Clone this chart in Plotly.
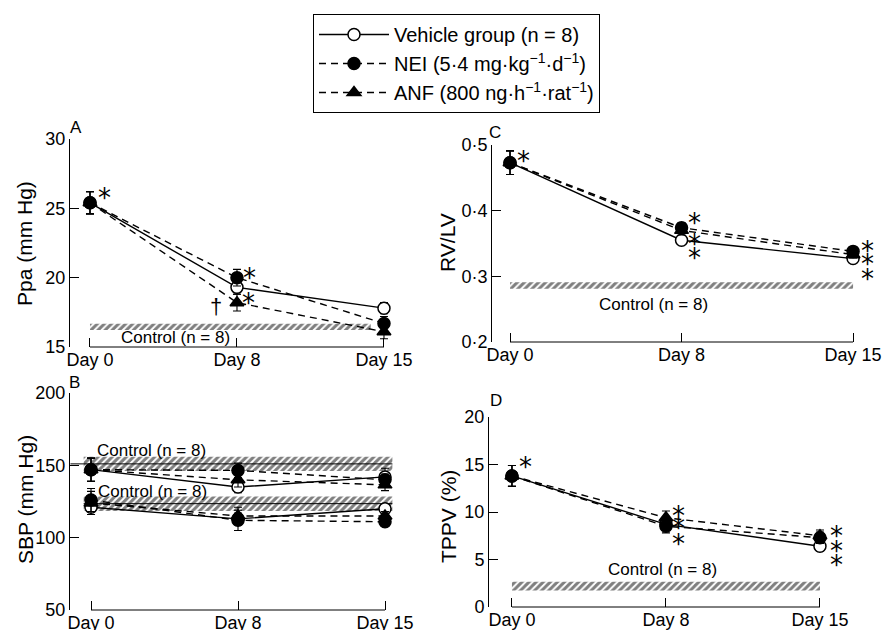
import plotly.graph_objects as go

# ---------------- data ----------------
days = ["Day 0", "Day 8", "Day 15"]
day_pos = [0, 1, 2]

# Panel A: Ppa (mm Hg)
ppa_vehicle = [25.4, 19.3, 17.8]
ppa_vehicle_err = [0.8, 0.5, 0.4]
ppa_nei = [25.4, 20.0, 16.7]
ppa_nei_err = [0.8, 0.6, 0.5]
ppa_anf = [25.4, 18.2, 16.1]
ppa_anf_err = [0.8, 0.6, 0.5]
ppa_control = (16.45, 0.22)  # mean, sd

# Panel B: SBP (mm Hg) - upper and lower sets
sbp_hi_vehicle = [147, 135, 142]
sbp_hi_vehicle_err = [8, 4, 6]
sbp_hi_nei = [147, 146.5, 140]
sbp_hi_nei_err = [8, 5, 4]
sbp_hi_anf = [147, 140, 136.5]
sbp_hi_anf_err = [8, 5, 4]
sbp_lo_vehicle = [121, 113, 120]
sbp_lo_vehicle_err = [5, 4, 3]
sbp_lo_nei = [126, 112, 111]
sbp_lo_nei_err = [8, 7, 3]
sbp_lo_anf = [124, 115, 115]
sbp_lo_anf_err = [8, 6, 3]
sbp_hi_control = (151, 5)
sbp_lo_control = (123.5, 5)

# Panel C: RV/LV
rv_vehicle = [0.473, 0.355, 0.327]
rv_vehicle_err = [0.018, 0.006, 0.005]
rv_nei = [0.473, 0.374, 0.338]
rv_nei_err = [0.018, 0.008, 0.005]
rv_anf = [0.473, 0.370, 0.333]
rv_anf_err = [0.018, 0.007, 0.005]
rv_control = (0.286, 0.005)

# Panel D: TPPV (%)
tppv_vehicle = [13.8, 8.7, 6.4]
tppv_vehicle_err = [1.1, 0.6, 0.5]
tppv_nei = [13.8, 8.5, 7.3]
tppv_nei_err = [1.1, 0.7, 0.6]
tppv_anf = [13.8, 9.4, 7.5]
tppv_anf_err = [1.1, 0.7, 0.6]
tppv_control = (2.2, 0.45)

legend_names = ["Vehicle group (n = 8)",
                "NEI (5·4 mg·kg<sup>−1</sup>·d<sup>−1</sup>)",
                "ANF (800 ng·h<sup>−1</sup>·rat<sup>−1</sup>)"]

# ---------------- figure ----------------
W, H = 884, 630
FONT = "Liberation Sans, Arial, sans-serif"
fig = go.Figure()

def px_x(p):
    return p / W

def px_y(p):
    return 1 - p / H

def add_band(xa, ya, ctrl, x0, x1):
    m, s = ctrl
    fig.add_trace(go.Scatter(
        x=[x0, x1, x1, x0, x0], y=[m - s, m - s, m + s, m + s, m - s],
        xaxis=xa, yaxis=ya, mode="lines", fill="toself",
        line=dict(width=0), fillcolor="rgba(0,0,0,0)",
        fillpattern=dict(shape="/", size=5, solidity=0.6, fgcolor="black"),
        showlegend=False, hoverinfo="skip"))

def add_series(xa, ya, vals, errs, kind, show):
    styles = {
        "vehicle": dict(dash="solid", symbol="circle", fill="white", rank=1, name=legend_names[0]),
        "nei": dict(dash="7px,5px", symbol="circle", fill="black", rank=2, name=legend_names[1]),
        "anf": dict(dash="7px,5px", symbol="triangle-up", fill="black", rank=3, name=legend_names[2]),
    }
    st = styles[kind]
    fig.add_trace(go.Scatter(
        x=day_pos, y=vals, xaxis=xa, yaxis=ya, mode="lines+markers",
        name=st["name"], legendrank=st["rank"], showlegend=show,
        line=dict(color="black", width=1.4, dash=st["dash"]),
        marker=dict(symbol=st["symbol"], size=12,
                    color=st["fill"], line=dict(color="black", width=1.5)),
        error_y=dict(type="data", array=errs, color="black", thickness=1.1, width=4),
        hoverinfo="skip"))

# Panel A
add_band("x", "y", ppa_control, 0.0, 1.91)
add_series("x", "y", ppa_vehicle, ppa_vehicle_err, "vehicle", True)
add_series("x", "y", ppa_anf, ppa_anf_err, "anf", True)
add_series("x", "y", ppa_nei, ppa_nei_err, "nei", True)

# Panel B
fig.add_trace(go.Scatter(x=[-0.14, 2.05], y=[sbp_hi_control[0]] * 2, xaxis="x2", yaxis="y2",
                         mode="lines", line=dict(color="black", width=1), showlegend=False, hoverinfo="skip"))
fig.add_trace(go.Scatter(x=[-0.05, 2.05], y=[sbp_lo_control[0]] * 2, xaxis="x2", yaxis="y2",
                         mode="lines", line=dict(color="black", width=1), showlegend=False, hoverinfo="skip"))
add_band("x2", "y2", sbp_hi_control, -0.05, 2.05)
add_band("x2", "y2", sbp_lo_control, -0.05, 2.05)
for vals, errs, k in [(sbp_hi_vehicle, sbp_hi_vehicle_err, "vehicle"),
                      (sbp_hi_anf, sbp_hi_anf_err, "anf"), (sbp_hi_nei, sbp_hi_nei_err, "nei"),
                      (sbp_lo_vehicle, sbp_lo_vehicle_err, "vehicle"),
                      (sbp_lo_anf, sbp_lo_anf_err, "anf"), (sbp_lo_nei, sbp_lo_nei_err, "nei")]:
    add_series("x2", "y2", vals, errs, k, False)

# Panel C
add_band("x3", "y3", rv_control, 0.0, 2.0)
add_series("x3", "y3", rv_vehicle, rv_vehicle_err, "vehicle", False)
add_series("x3", "y3", rv_anf, rv_anf_err, "anf", False)
add_series("x3", "y3", rv_nei, rv_nei_err, "nei", False)

# Panel D
add_band("x4", "y4", tppv_control, 0.0, 2.0)
add_series("x4", "y4", tppv_vehicle, tppv_vehicle_err, "vehicle", False)
add_series("x4", "y4", tppv_anf, tppv_anf_err, "anf", False)
add_series("x4", "y4", tppv_nei, tppv_nei_err, "nei", False)

# ---------------- axes ----------------
tickfont = dict(family=FONT, size=18, color="black")

def xaxis(dom_px, rng, anchor):
    return dict(domain=[px_x(dom_px[0]), px_x(dom_px[1])], range=rng, showline=False,
                showgrid=False, zeroline=False, ticks="inside", ticklen=9, tickwidth=1,
                tickcolor="black", tickvals=day_pos, ticktext=days, tickfont=tickfont,
                fixedrange=True, automargin=False, anchor=anchor)

def yaxis(dom_px, rng, tv, tt, anchor):
    return dict(domain=[px_y(dom_px[1]), px_y(dom_px[0])], range=rng, showline=True,
                linecolor="black", linewidth=1, showgrid=False, zeroline=False,
                ticks="inside", ticklen=9, tickwidth=1, tickcolor="black",
                tickvals=tv, ticktext=tt, tickfont=tickfont, anchor=anchor,
                fixedrange=True, automargin=False)

fig.update_layout(
    xaxis=xaxis((70, 400), [-0.136, 2.109], "y"),
    yaxis=yaxis((139, 347), [15, 30], [15, 20, 25, 30], ["15", "20", "25", "30"], "x"),
    xaxis2=xaxis((70, 400), [-0.143, 2.102], "y2"),
    yaxis2=yaxis((393, 610), [50, 200], [50, 100, 150, 200], ["50", "100", "150", "200"], "x2"),
    xaxis3=xaxis((492, 880), [-0.105, 2.157], "y3"),
    yaxis3=yaxis((145, 342), [0.2, 0.5], [0.2, 0.3, 0.4, 0.5], ["0·2", "0·3", "0·4", "0·5"], "x3"),
    xaxis4=xaxis((489, 850), [-0.149, 2.195], "y4"),
    yaxis4=yaxis((417, 607), [0, 20], [0, 5, 10, 15, 20], ["0", "5", "10", "15", "20"], "x4"),
)

# x brackets
shapes = []
for xr, yr in [("x", "y"), ("x2", "y2"), ("x3", "y3"), ("x4", "y4")]:
    shapes.append(dict(type="line", xref=xr, yref=yr + " domain", x0=0, x1=2, y0=0, y1=0,
                       line=dict(color="black", width=1)))
fig.update_layout(shapes=shapes)

# ---------------- annotations ----------------
ann = []
def text(x, y, s, xr, yr, size=15, family=FONT, **kw):
    d = dict(x=x, y=y, xref=xr, yref=yr, text=s, showarrow=False,
             xanchor="center", yanchor="middle",
             font=dict(family=family, size=size, color="black"))
    d.update(kw)
    ann.append(d)

# axis titles
text(px_x(25), px_y(244), "Ppa (mm Hg)", "paper", "paper", 21, textangle=-90)
text(px_x(25), px_y(500), "SBP (mm Hg)", "paper", "paper", 21, textangle=-90)
text(px_x(448), px_y(243), "RV/LV", "paper", "paper", 21, textangle=-90)
text(px_x(448), px_y(517), "TPPV (%)", "paper", "paper", 21, textangle=-90)
# panel letters
text(px_x(76), px_y(128), "A", "paper", "paper", 17)
text(px_x(74), px_y(383), "B", "paper", "paper", 17)
text(px_x(495), px_y(132), "C", "paper", "paper", 17)
text(px_x(496), px_y(400), "D", "paper", "paper", 17)
# control labels
text(0.58, 15.72, "Control (n = 8)", "x", "y", 17)
text(0.41, 160.6, "Control (n = 8)", "x2", "y2", 17)
text(0.42, 131.8, "Control (n = 8)", "x2", "y2", 17)
text(0.834, 0.2565, "Control (n = 8)", "x3", "y3", 17)
text(0.98, 3.9, "Control (n = 8)", "x4", "y4", 17)
# dagger
text(0.857, 17.9, "†", "x", "y", 22)

# significance asterisks (x, y in data units)
stars = {
    ("x", "y"): [(0.102, 26.16), (1.082, 20.43), (1.075, 18.62)],
    ("x3", "y3"): [(0.076, 0.4848), (1.073, 0.3904), (1.073, 0.3584), (1.073, 0.3371),
                   (2.087, 0.3478), (2.087, 0.3280), (2.087, 0.3052)],
    ("x4", "y4"): [(0.091, 15.37), (1.084, 10.21), (1.084, 8.95), (1.084, 7.26),
                   (2.11, 8.11), (2.11, 6.53), (2.11, 5.05)],
}
for (xr, yr), pts in stars.items():
    for (sx, sy) in pts:
        text(sx, sy, "*", xr, yr, 26, family="DejaVu Sans", yshift=-6)

fig.update_layout(annotations=ann)

fig.update_layout(
    width=W, height=H, autosize=False,
    margin=dict(l=0, r=0, t=0, b=0, autoexpand=False),
    paper_bgcolor="white", plot_bgcolor="white",
    font=dict(family=FONT, color="black"),
    legend=dict(x=px_x(313), y=px_y(14), xanchor="left", yanchor="top",
                bordercolor="black", borderwidth=1, bgcolor="white",
                font=dict(family=FONT, size=20, color="black"),
                itemwidth=70,
                tracegroupgap=0, itemclick=False, itemdoubleclick=False),
    showlegend=True,
)

fig.write_html("out.html", config={"displayModeBar": False},
               post_script="document.body.style.margin='0px';document.body.style.padding='0px';")
